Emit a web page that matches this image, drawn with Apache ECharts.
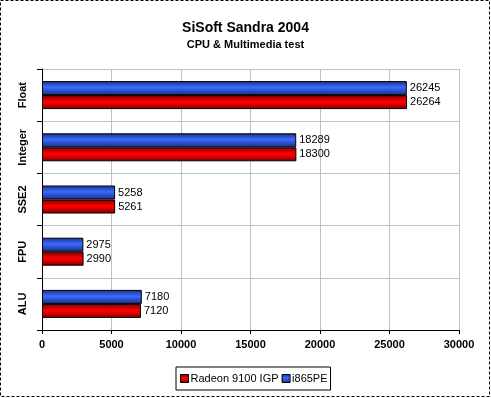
<!DOCTYPE html>
<html>
<head>
<meta charset="utf-8">
<script src="https://cdn.jsdelivr.net/npm/echarts@6/dist/echarts.min.js"></script>
<style>
  html, body { margin: 0; padding: 0; background: #fff; }
  #chart { width: 491px; height: 398px; }
</style>
</head>
<body>
<div id="chart"></div>
<script>
// data
var categories = ["ALU", "FPU", "SSE2", "Integer", "Float"];
var radeonValues = [7120, 2990, 5261, 18300, 26264];
var i865Values = [7180, 2975, 5258, 18289, 26245];
var seriesNames = ["Radeon 9100 IGP", "i865PE"];
var xTicks = [0, 5000, 10000, 15000, 20000, 25000, 30000];

var font = "Arial, 'Liberation Sans', sans-serif";

function barGradient(dark, mid, light) {
  return new echarts.graphic.LinearGradient(0, 0, 0, 1, [
    { offset: 0, color: dark },
    { offset: 0.45, color: light },
    { offset: 0.6, color: mid },
    { offset: 1, color: dark }
  ]);
}

var barLabel = {
  show: true,
  position: "right",
  distance: 3,
  fontSize: 11,
  color: "#000",
  fontFamily: font
};

var chart = echarts.init(document.getElementById("chart"));

chart.setOption({
  animation: false,
  backgroundColor: "#fff",
  textStyle: { fontFamily: font, color: "#000" },
  title: [
    {
      text: "SiSoft Sandra 2004",
      left: "center",
      top: 16,
      textStyle: { fontSize: 14, fontWeight: "bold", color: "#000", fontFamily: font }
    },
    {
      text: "CPU & Multimedia test",
      left: "center",
      top: 34,
      textStyle: { fontSize: 11, fontWeight: "bold", color: "#000", fontFamily: font }
    }
  ],
  grid: {
    left: 42,
    right: 32,
    top: 69,
    bottom: 68,
    containLabel: false
  },
  legend: {
    data: seriesNames,
    orient: "horizontal",
    left: 176,
    top: 367,
    padding: [6, 3, 6, 4],
    itemGap: 3,
    itemWidth: 8,
    itemHeight: 8,
    borderColor: "#000",
    borderWidth: 1,
    icon: "rect",
    itemStyle: { borderColor: "#000", borderWidth: 1 },
    textStyle: { fontSize: 11, color: "#000", fontFamily: font, padding: [0, 0, 0, -3] }
  },
  xAxis: {
    type: "value",
    min: xTicks[0],
    max: xTicks[xTicks.length - 1],
    interval: 5000,
    axisLine: { show: true, lineStyle: { color: "#000", width: 1 } },
    axisTick: { show: true, length: 4, lineStyle: { color: "#000" } },
    axisLabel: {
      fontSize: 11,
      fontWeight: "bold",
      color: "#000",
      margin: 9,
      fontFamily: font,
      formatter: function (v) { return String(v); }
    },
    splitLine: { show: true, lineStyle: { color: "#c0c0c0", width: 1 } }
  },
  yAxis: {
    type: "category",
    data: categories,
    axisLine: { show: true, lineStyle: { color: "#000", width: 1 } },
    axisTick: { show: true, length: 5, lineStyle: { color: "#000" } },
    axisLabel: {
      rotate: 90,
      fontSize: 11,
      fontWeight: "bold",
      color: "#000",
      margin: 14,
      fontFamily: font
    },
    splitLine: { show: true, lineStyle: { color: "#c0c0c0", width: 1 } }
  },
  series: [
    {
      name: seriesNames[1],
      type: "bar",
      data: i865Values,
      barWidth: 14,
      barGap: "0%",
      color: "#3366ff",
      itemStyle: {
        color: barGradient("#1a2f80", "#2e5ae0", "#3c6cff"),
        borderColor: "#000",
        borderWidth: 1
      },
      label: barLabel
    },
    {
      name: seriesNames[0],
      type: "bar",
      data: radeonValues,
      barWidth: 14,
      barGap: "0%",
      color: "#ff0000",
      itemStyle: {
        color: barGradient("#7a0000", "#e80000", "#ff0000"),
        borderColor: "#000",
        borderWidth: 1
      },
      label: barLabel
    }
  ],
  graphic: [
    {
      type: "rect",
      shape: { x: 0.5, y: 0.5, width: 489, height: 396 },
      style: { fill: null, stroke: "#000", lineWidth: 1, lineDash: [3, 2] },
      silent: true
    }
  ]
});
</script>
</body>
</html>
